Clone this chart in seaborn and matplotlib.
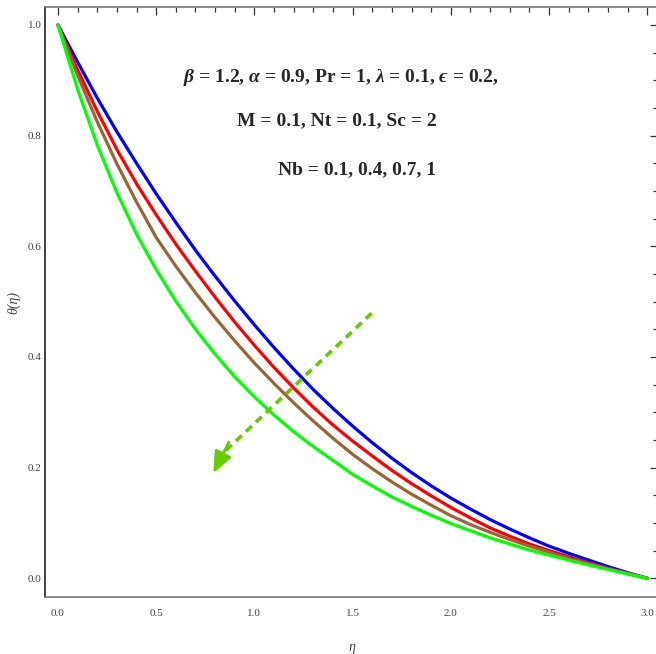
import numpy as np
import pandas as pd
import matplotlib
matplotlib.use("Agg")
import matplotlib.pyplot as plt
import seaborn as sns
from matplotlib.ticker import MultipleLocator, FormatStrFormatter

eta = [round(0.1 * i, 1) for i in range(31)]
theta_nb01 = [1.000, 0.933, 0.868, 0.807, 0.750, 0.695, 0.643, 0.593, 0.546, 0.501,
              0.458, 0.417, 0.378, 0.341, 0.307, 0.275, 0.245, 0.217, 0.191, 0.167,
              0.145, 0.125, 0.106, 0.089, 0.073, 0.058, 0.045, 0.033, 0.021, 0.010, 0.0]
theta_nb04 = [1.000, 0.919, 0.844, 0.775, 0.713, 0.657, 0.604, 0.555, 0.508, 0.463,
              0.421, 0.381, 0.344, 0.309, 0.277, 0.248, 0.221, 0.195, 0.171, 0.149,
              0.128, 0.109, 0.091, 0.076, 0.062, 0.050, 0.039, 0.028, 0.018, 0.009, 0.0]
theta_nb07 = [1.000, 0.909, 0.825, 0.749, 0.680, 0.616, 0.564, 0.516, 0.471, 0.429,
              0.389, 0.352, 0.317, 0.284, 0.253, 0.224, 0.198, 0.174, 0.152, 0.132,
              0.113, 0.097, 0.083, 0.070, 0.058, 0.047, 0.036, 0.026, 0.017, 0.008, 0.0]
theta_nb10 = [1.000, 0.884, 0.783, 0.697, 0.622, 0.558, 0.501, 0.450, 0.405, 0.364,
              0.328, 0.295, 0.265, 0.238, 0.213, 0.188, 0.167, 0.147, 0.130, 0.114,
              0.099, 0.086, 0.073, 0.062, 0.051, 0.042, 0.033, 0.024, 0.016, 0.008, 0.0]
series_names = ["Nb=0.1", "Nb=0.4", "Nb=0.7", "Nb=1"]
colors = ["#0000ff", "#ff0000", "#996633", "#00ff00"]

frames = []
for name, vals in zip(series_names, [theta_nb01, theta_nb04, theta_nb07, theta_nb10]):
    frames.append(pd.DataFrame({"eta": eta, "theta": vals, "Nb": name}))
df = pd.concat(frames, ignore_index=True)

sns.set_style("white")
plt.rcParams["font.family"] = ["Liberation Serif", "DejaVu Serif"]
plt.rcParams["mathtext.fontset"] = "custom"
plt.rcParams["mathtext.rm"] = "Liberation Serif:bold"
plt.rcParams["mathtext.it"] = "Liberation Serif:italic:bold"
plt.rcParams["mathtext.bf"] = "Liberation Serif:bold"
plt.rcParams["mathtext.fallback"] = "stix"

fig = plt.figure(figsize=(6.56, 6.54), dpi=100)
ax = fig.add_axes([45/656, (654-597)/654, (658-45)/656, (597-7)/654])

sns.lineplot(data=df, x="eta", y="theta", hue="Nb", palette=colors,
             linewidth=2.3, legend=False, ax=ax)

ax.set_xlim(-0.066, 3.055)
ax.set_ylim(-0.034, 1.0325)
ax.xaxis.set_major_locator(MultipleLocator(0.5))
ax.xaxis.set_minor_locator(MultipleLocator(0.1))
ax.yaxis.set_major_locator(MultipleLocator(0.2))
ax.yaxis.set_minor_locator(MultipleLocator(0.05))
ax.xaxis.set_major_formatter(FormatStrFormatter("%.1f"))
ax.yaxis.set_major_formatter(FormatStrFormatter("%.1f"))
ax.tick_params(which="both", direction="in", top=True, right=True,
               color="#333333", labelsize=8, labelcolor="#444444", width=0.9)
ax.tick_params(which="major", length=6)
ax.tick_params(which="minor", length=3.5)
ax.tick_params(axis="x", pad=9)
ax.tick_params(axis="y", pad=2.5)
for s in ax.spines.values():
    s.set_color("#777777")
    s.set_linewidth(1.2)
ax.spines["left"].set_color("#222222")

ax.set_xlabel("η", fontsize=10, color="#444444", labelpad=16, style="italic")
ax.set_ylabel("θ(η)", fontsize=10, color="#444444", labelpad=5, style="italic")

tkw = dict(fontsize=14, fontweight="bold", ha="center", va="center",
           transform=fig.transFigure)
fig.text(341/656, 1-77/654,
         "$\\beta$ = 1.2, $\\alpha$ = 0.9, Pr = 1, $\\lambda$ = 0.1, $\u03f5$ = 0.2,", **tkw)
fig.text(337/656, 1-121/654, "M = 0.1, Nt = 0.1, Sc = 2", **tkw)
fig.text(357/656, 1-170/654, "Nb = 0.1, 0.4, 0.7, 1", **tkw)

arrow_col = "#66cc00"
ax.plot([1.597, 0.84], [0.479, 0.226], linestyle=(0, (2.2, 1.6)),
        color=arrow_col, linewidth=2.6)
ax.annotate("", xy=(0.791, 0.190), xytext=(0.87, 0.246),
            arrowprops=dict(arrowstyle="-|>,head_length=1.3,head_width=0.55",
                            color=arrow_col, lw=2.0, shrinkA=0, shrinkB=0))

fig.savefig("out.png", dpi=100)
